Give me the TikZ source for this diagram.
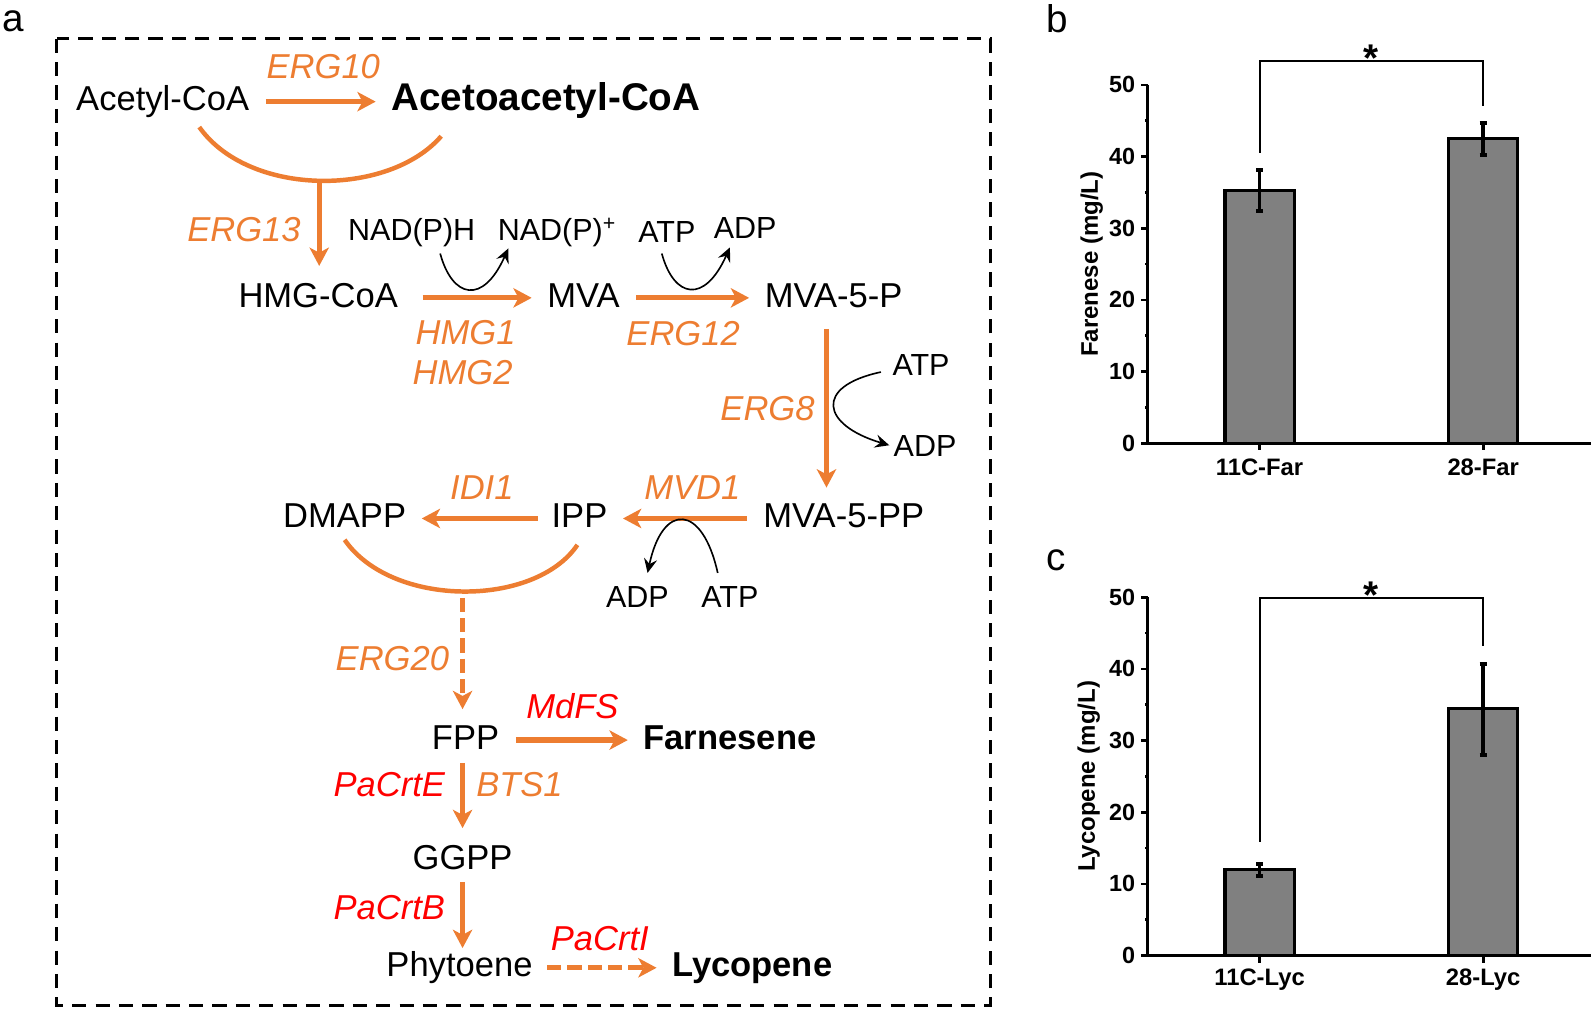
\documentclass[tikz,border=0pt]{standalone}
\usepackage{fontspec}
\setmainfont{Liberation Sans}
\usepackage{tikz}
\usetikzlibrary{arrows.meta,positioning,calc}
\definecolor{pathorange}{HTML}{ED7D31}
\definecolor{genered}{HTML}{FF0000}
\definecolor{bargray}{HTML}{808080}

\begin{document}
\begin{tikzpicture}[
                x=0.5pt, y=-0.5pt,
                chem/.style={inner sep=0pt, font=\fontsize{17}{20}\selectfont,
                        text height=12.5pt, text depth=3.5pt},
                product/.style={chem, font=\fontsize{17}{20}\selectfont\bfseries},
                cofactor/.style={inner sep=0pt, font=\fontsize{15}{18}\selectfont,
                        text height=11pt, text depth=3pt},
                enzyme/.style={inner sep=0pt, font=\fontsize{17}{20}\selectfont\itshape, text=pathorange},
                hetero/.style={enzyme, text=genered},
                conv/.style={draw=pathorange, line width=2.6pt, shorten <=8pt, shorten >=7.5pt,
                        -{Stealth[length=9pt, width=9.5pt, inset=2.5pt]}},
                convdash/.style={conv, dash pattern=on 7pt off 3pt},
                merge/.style={draw=pathorange, line width=2.2pt},
                cosub/.style={draw, line width=0.8pt, -{Stealth[length=7pt, width=6.5pt, inset=2.5pt]}},
                panel/.style={inner sep=0pt, font=\fontsize{19}{22}\selectfont},
                dashframe/.style={draw, line width=1.5pt, dash pattern=on 7pt off 4.5pt},
                axisline/.style={draw, line width=1.3pt},
                barbox/.style={draw, fill=bargray, line width=1.5pt},
                errbar/.style={draw, line width=1.7pt},
                bracket/.style={draw, line width=1pt},
                ticklab/.style={inner sep=0pt, anchor=east, font=\fontsize{11.5}{13}\selectfont\bfseries},
                catlab/.style={inner sep=0pt, font=\fontsize{11.7}{14}\selectfont\bfseries},
                axlab/.style={inner sep=0pt, rotate=90, font=\fontsize{11.8}{14}\selectfont\bfseries},
                signif/.style={inner sep=0pt, anchor=north, font=\fontsize{19}{22}\selectfont\bfseries},
            ]
            \useasboundingbox (0,0) rectangle (1568,994);

            % ── a: pathway ────────────────────────────────────────
            \node[panel] (labA) at (13,21) {a};
            \draw[dashframe] (56,38) rectangle (974,989);

            % acetyl-CoA -> acetoacetyl-CoA
            \node[chem] (acetyl) at (160,100) {Acetyl-CoA};
            \node[product, font=\fontsize{19}{22}\selectfont\bfseries] (acetoacetyl) at (537,100) {Acetoacetyl-CoA};
            \draw[conv] (acetyl) -- (acetoacetyl);
            \node[enzyme] (erg10) at (318,66) {ERG10};

            % condensation to HMG-CoA
            \coordinate (arcA1) at (196,125);
            \coordinate (arcA2) at (434,134);
            \coordinate (jA) at (314,178);
            \draw[merge] (arcA1) .. controls (245,194) and (382,194) .. (arcA2);
            \node[chem] (hmg) at (313,293) {HMG-CoA};
            \draw[conv, shorten <=0pt] (jA) -- (jA |- hmg.north);
            \node[enzyme] (erg13) at (240,226) {ERG13};

            % HMG-CoA -> MVA -> MVA-5-P
            \node[chem] (mva) at (574,293) {MVA};
            \node[chem] (mva5p) at (820,293) {MVA-5-P};
            \draw[conv, shorten <=12pt] (hmg) -- (mva);
            \draw[conv] (mva) -- (mva5p);
            \node[enzyme] (hmg1) at (458,327) {HMG1};
            \node[enzyme] (hmg2) at (455,367) {HMG2};
            \node[enzyme] (erg12) at (672,328) {ERG12};

            \node[cofactor] (nadh) at (405,229) {NAD(P)H};
            \node[cofactor] (nadp) at (548,229) {NAD(P)\textsuperscript{+}};
            \draw[cosub] ([shift={(28,6)}]nadh.south) .. controls +(12,44) and +(-25,56) .. ([shift={(-48,1)}]nadp.south);
            \node[cofactor] (atpA) at (656,231) {ATP};
            \node[cofactor] (adpA) at (733,227) {ADP};
            \draw[cosub] ([shift={(-5,4)}]atpA.south) .. controls +(12,44) and +(-25,56) .. ([shift={(-15,2)}]adpA.south);

            % MVA-5-P -> MVA-5-PP
            \node[chem] (mva5pp) at (830,510) {MVA-5-PP};
            \coordinate (erg8top) at ([shift={(-7,0)}]mva5p.south);
            \draw[conv, shorten <=7pt, shorten >=7pt] (erg8top) -- (erg8top |- mva5pp.north);
            \node[enzyme] (erg8) at (755,402) {ERG8};
            \node[cofactor] (atpB) at (906,361) {ATP};
            \node[cofactor] (adpB) at (910,441) {ADP};
            \draw[cosub] ([shift={(-11,5)}]atpB.west) .. controls +(-66,14) and +(-67,-20) .. ([shift={(-4,-3)}]adpB.west);

            % MVA-5-PP -> IPP -> DMAPP
            \node[chem] (ipp) at (570,510) {IPP};
            \node[chem] (dmapp) at (339,510) {DMAPP};
            \draw[conv] (mva5pp) -- (ipp);
            \draw[conv, shorten <=6.5pt] (ipp) -- (dmapp);
            \node[enzyme] (mvd1) at (681,480) {MVD1};
            \node[enzyme] (idi1) at (474,480) {IDI1};
            \node[cofactor] (adpC) at (627,590) {ADP};
            \node[cofactor] (atpC) at (718,590) {ATP};
            \draw[cosub] ([shift={(-12,-12)}]atpC.north) .. controls +(-15,-68) and +(15,-70) .. ([shift={(10,-12)}]adpC.north);

            % IPP + DMAPP -> FPP
            \coordinate (arcB1) at (339,531);
            \coordinate (arcB2) at (568,536);
            \coordinate (jB) at (455,582);
            \draw[merge] (arcB1) .. controls (385,598) and (526,598) .. (arcB2);
            \node[chem] (fpp) at (458,728) {FPP};
            \draw[convdash, shorten <=3pt, shorten >=7pt] (jB) -- (jB |- fpp.north);
            \node[enzyme] (erg20) at (386,648) {ERG20};

            % FPP -> farnesene
            \node[product] (farnesene) at (718,728) {Farnesene};
            \draw[conv] (fpp) -- (farnesene);
            \node[hetero] (mdfs) at (563,695) {MdFS};

            % FPP -> GGPP -> phytoene -> lycopene
            \node[chem] (ggpp) at (455,846) {GGPP};
            \draw[conv, shorten <=3pt] (ggpp |- fpp.south) -- (ggpp.north);
            \node[hetero] (crtE) at (383,772) {PaCrtE};
            \node[enzyme] (bts1) at (511,772) {BTS1};
            \node[chem] (phytoene) at (452,952) {Phytoene};
            \draw[conv, shorten <=2.5pt, shorten >=1.5pt] (ggpp) -- (ggpp |- phytoene.north);
            \node[hetero] (crtB) at (383,893) {PaCrtB};
            \node[product] (lycopene) at (740,952) {Lycopene};
            \draw[convdash, shorten <=7pt] (phytoene) -- (lycopene);
            \node[hetero] (crtI) at (590,923) {PaCrtI};

            % ── b: farnesene titre ────────────────────────────────
            \node[panel] (labB) at (1040,18) {b};
            \begin{scope}[shift={(1129,436)}, y=3.525pt]
                \foreach \cx/\val/\lo/\hi in {110/35.2/32.4/38.1, 330/42.5/40.2/44.7} {
                    \draw[barbox] (\cx-34,0) rectangle (\cx+34,\val);
                    \draw[errbar] (\cx,\lo) -- (\cx,\hi) (\cx-3.5,\lo) -- (\cx+3.5,\lo) (\cx-3.5,\hi) -- (\cx+3.5,\hi);
                    \draw[axisline] (\cx,0) -- ++(0pt,-3.5pt);
                }
                \draw[axisline] (0,50) -- (0,0) -- (436,0);
                \foreach \v in {0,10,...,50} {
                    \draw[axisline] (0,\v) -- ++(-3.5pt,0pt);
                    \node[ticklab] (bt\v) at ([xshift=-6pt]0,\v) {\v};
                }
                \foreach \v in {5,15,...,45}
                    \draw[axisline] (0,\v) -- ++(-1.5pt,0pt);
                \node[catlab] (bfarA) at (110,-3.3) {11C-Far};
                \node[catlab] (bfarB) at (330,-3.3) {28-Far};
                \node[axlab] (bylab) at (-55,25) {Farenese (mg/L)};
                \draw[bracket] (110,40.5) -- (110,53.3) -- (330,53.3) -- (330,47);
                \node[signif] (bstar) at (220,55.6) {*};
            \end{scope}

            % ── c: lycopene titre ─────────────────────────────────
            \node[panel] (labC) at (1039,551) {c};
            \begin{scope}[shift={(1129,940)}, y=3.525pt]
                \foreach \cx/\val/\lo/\hi in {110/12.0/11.1/12.8, 330/34.5/28.0/40.7} {
                    \draw[barbox] (\cx-34,0) rectangle (\cx+34,\val);
                    \draw[errbar] (\cx,\lo) -- (\cx,\hi) (\cx-3.5,\lo) -- (\cx+3.5,\lo) (\cx-3.5,\hi) -- (\cx+3.5,\hi);
                    \draw[axisline] (\cx,0) -- ++(0pt,-3.5pt);
                }
                \draw[axisline] (0,50) -- (0,0) -- (436,0);
                \foreach \v in {0,10,...,50} {
                    \draw[axisline] (0,\v) -- ++(-3.5pt,0pt);
                    \node[ticklab] (ct\v) at ([xshift=-6pt]0,\v) {\v};
                }
                \foreach \v in {5,15,...,45}
                    \draw[axisline] (0,\v) -- ++(-1.5pt,0pt);
                \node[catlab] (clycA) at (110,-3.4) {11C-Lyc};
                \node[catlab] (clycB) at (330,-3.4) {28-Lyc};
                \node[axlab] (cylab) at (-58,25) {Lycopene (mg/L)};
                \draw[bracket] (110,15.9) -- (110,49.9) -- (330,49.9) -- (330,43.2);
                \node[signif] (cstar) at (220,52.2) {*};
            \end{scope}
        \end{tikzpicture}
\end{document}
